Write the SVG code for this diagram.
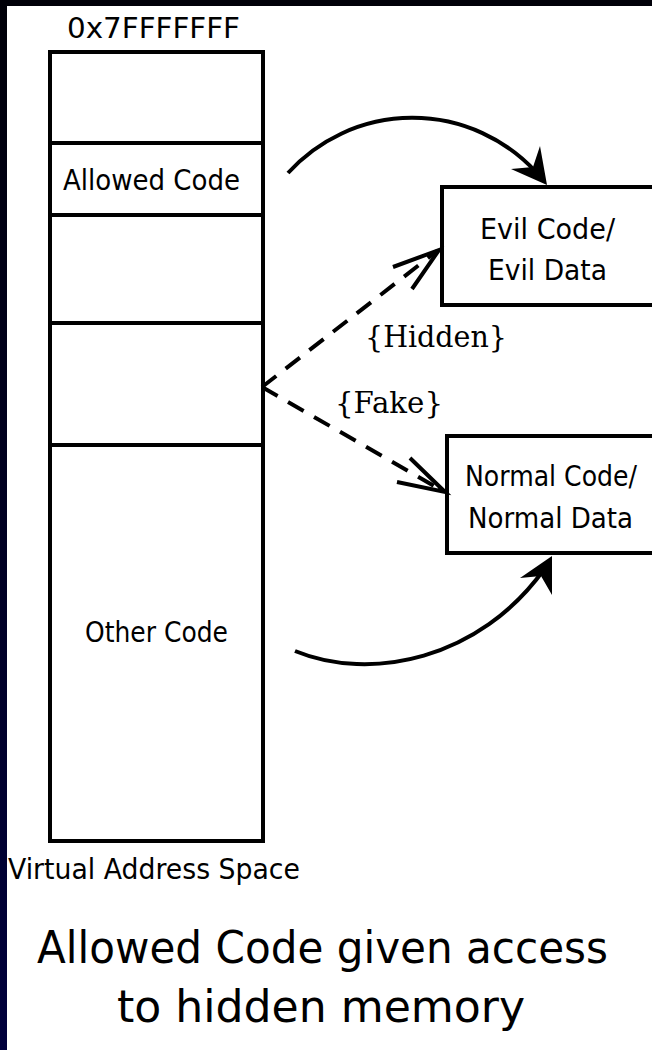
<svg xmlns="http://www.w3.org/2000/svg" width="652" height="1050" viewBox="0 0 652 1050">
<defs>
<linearGradient id="bg" x1="0" y1="0" x2="0" y2="1">
<stop offset="0" stop-color="#000008"/>
<stop offset="1" stop-color="#00003c"/>
</linearGradient>
</defs>
<style>
.box{fill:#fff;stroke:#000;stroke-width:4}
.div{stroke:#000;stroke-width:4;fill:none}
.lbl{font-family:"DejaVu Sans",sans-serif;font-size:27.5px;fill:#000}
.mono{font-family:"DejaVu Serif",serif;font-size:30px;fill:#000}
.title{font-family:"DejaVu Sans",sans-serif;font-size:44px;fill:#000}
.solid{fill:none;stroke:#000;stroke-width:4}
.dash{fill:none;stroke:#000;stroke-width:4;stroke-dasharray:18 12}
.open{fill:none;stroke:#000;stroke-width:4;stroke-linejoin:miter}
.head{fill:#000;stroke:none}
</style>
<rect x="0" y="0" width="652" height="1050" fill="url(#bg)"/>
<rect x="7" y="6" width="645" height="1044" fill="#fff"/>

<g id="address-space">
<text class="lbl" x="67" y="38" textLength="173" lengthAdjust="spacingAndGlyphs">0x7FFFFFFF</text>
<rect class="box" x="50" y="52" width="213" height="789"/>
<line class="div" x1="50" y1="143" x2="263" y2="143"/>
<line class="div" x1="50" y1="215" x2="263" y2="215"/>
<line class="div" x1="50" y1="323" x2="263" y2="323"/>
<line class="div" x1="50" y1="445" x2="263" y2="445"/>
<text class="lbl" x="63" y="190" textLength="177" lengthAdjust="spacingAndGlyphs">Allowed Code</text>
<text class="lbl" x="85" y="642" textLength="143" lengthAdjust="spacingAndGlyphs">Other Code</text>
<text class="lbl" x="8" y="879" textLength="292" lengthAdjust="spacingAndGlyphs">Virtual Address Space</text>
</g>

<g id="evil">
<rect class="box" x="442" y="187" width="220" height="118"/>
<text class="lbl" x="480" y="239" textLength="135" lengthAdjust="spacingAndGlyphs">Evil Code/</text>
<text class="lbl" x="488" y="280" textLength="119" lengthAdjust="spacingAndGlyphs">Evil Data</text>
</g>

<g id="normal">
<rect class="box" x="447" y="436" width="215" height="117"/>
<text class="lbl" x="465" y="486" textLength="172" lengthAdjust="spacingAndGlyphs">Normal Code/</text>
<text class="lbl" x="468" y="528" textLength="165" lengthAdjust="spacingAndGlyphs">Normal Data</text>
</g>

<g id="connectors">
<path class="solid" d="M288,173 A168,168 0 0 1 536,172"/>
<path class="head" d="M547,185 L511,169 L533,167 L540,146 Z"/>
<path class="solid" d="M295,651 C370,682 480,660 545,568"/>
<path class="head" d="M552,556 L520,578 L541,576 L552,595 Z"/>
<path class="dash" d="M262,387 L437,251"/>
<path class="open" d="M393,267 L439,250 L412,289"/>
<path class="dash" d="M262,387 L443,491"/>
<path class="open" d="M410,458 L445,492 L397,482"/>
<text class="mono" x="365" y="347" textLength="142" lengthAdjust="spacingAndGlyphs">{Hidden}</text>
<text class="mono" x="335" y="413" textLength="108" lengthAdjust="spacingAndGlyphs">{Fake}</text>
</g>

<g id="caption">
<text class="title" x="37" y="963" textLength="571" lengthAdjust="spacingAndGlyphs">Allowed Code given access</text>
<text class="title" x="117" y="1022" textLength="408" lengthAdjust="spacingAndGlyphs">to hidden memory</text>
</g>
</svg>
